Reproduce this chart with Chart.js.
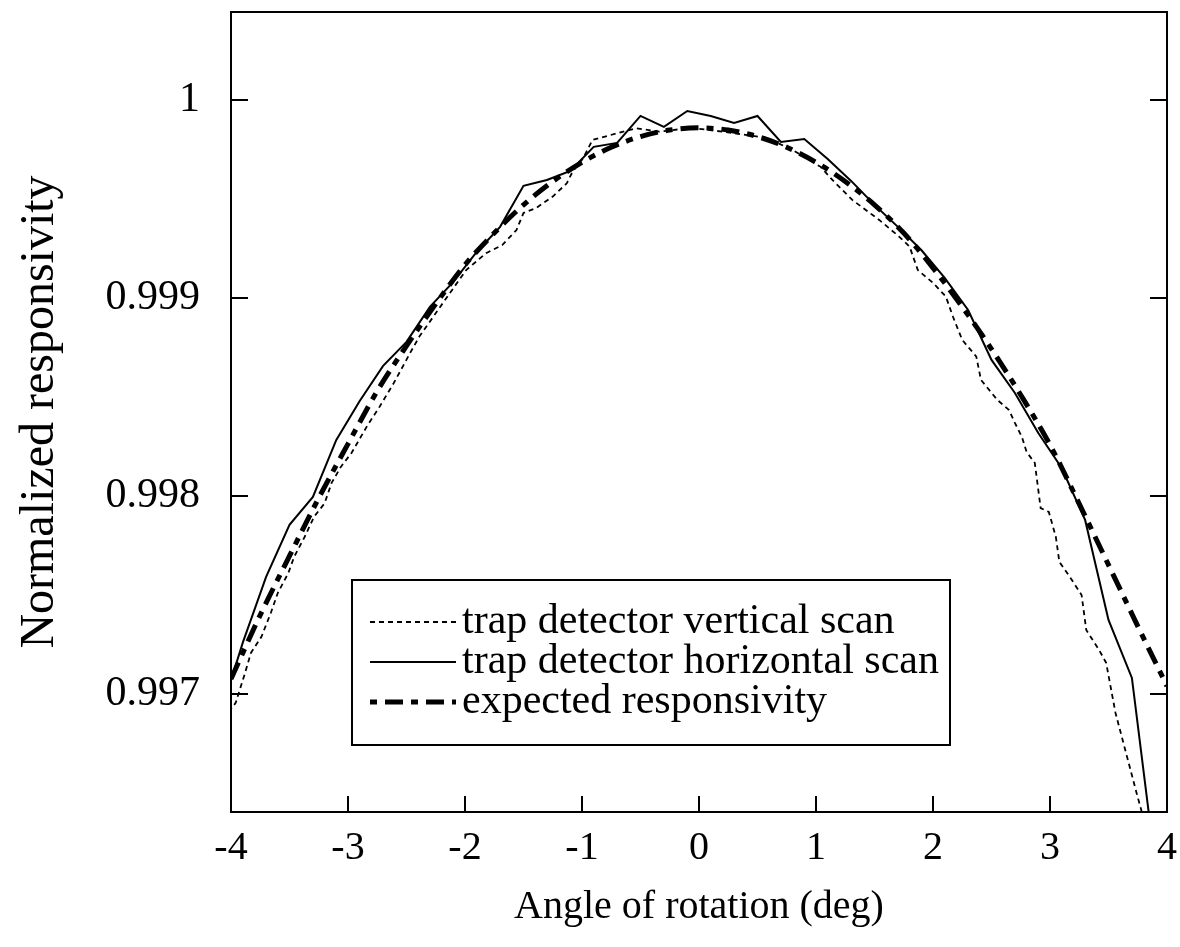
<!DOCTYPE html>
<html>
<head>
<meta charset="utf-8">
<script src="https://cdn.jsdelivr.net/npm/chart.js@4.4.1/dist/chart.umd.min.js"></script>
<style>
  body { margin: 0; background: #fff; }
  #wrap { width: 1180px; height: 947px; }
</style>
</head>
<body>
<div id="wrap"><canvas id="resp-chart" width="1180" height="947"></canvas></div>
<script>
// values
const xTicks = [-4, -3, -2, -1, 0, 1, 2, 3, 4];
const yTicks = [0.997, 0.998, 0.999, 1];

const seriesLabels = [
    'trap detector vertical scan',
    'trap detector horizontal scan',
    'expected responsivity'
];

// vertical scan (thin dashed)
const vertAngle = [-4.02, -3.96, -3.88, -3.83, -3.74, -3.66, -3.6, -3.51, -3.46, -3.37, -3.29, -3.2, -3.14, -3.06,
    -2.97, -2.84, -2.73, -2.61, -2.47, -2.39, -2.27, -2.13, -1.99, -1.82, -1.68, -1.56, -1.5, -1.39, -1.25,
    -1.13, -1.08, -0.99, -0.91, -0.54, -0.34, -0.06, 0.29, 0.58, 0.8, 1.04, 1.14, 1.31, 1.54, 1.71, 1.8,
    1.87, 2.0, 2.11, 2.17, 2.25, 2.37, 2.41, 2.55, 2.65, 2.7, 2.76, 2.8, 2.87, 2.92, 2.99, 3.05, 3.08,
    3.17, 3.27, 3.31, 3.42, 3.48, 3.56, 3.65, 3.74, 3.78, 3.85];
const vertResp = [0.996909, 0.996955, 0.997106, 0.997207, 0.997289, 0.997409, 0.99751, 0.997611, 0.997693,
    0.997794, 0.997895, 0.997963, 0.998066, 0.998148, 0.998217, 0.99835, 0.998451, 0.998569, 0.998721,
    0.998805, 0.998906, 0.999024, 0.999141, 0.999226, 0.999268, 0.999343, 0.999429, 0.999455, 0.999512,
    0.999579, 0.999638, 0.999706, 0.999798, 0.999857, 0.99984, 0.999859, 0.999833, 0.999808, 0.999747,
    0.999662, 0.999596, 0.999495, 0.999394, 0.99931, 0.999259, 0.999141, 0.999076, 0.999007, 0.998906,
    0.998788, 0.998704, 0.998586, 0.998485, 0.998434, 0.998369, 0.998298, 0.998222, 0.998167, 0.997939,
    0.997919, 0.997793, 0.997667, 0.997591, 0.9975, 0.997323, 0.997222, 0.997157, 0.996904, 0.996702,
    0.9965, 0.996414, 0.996212];

// horizontal scan (thin solid)
const horizAngle = [-4.1, -3.9, -3.7, -3.5, -3.3, -3.1, -2.9, -2.7, -2.5, -2.3, -2.1, -1.9, -1.7, -1.5, -1.3,
    -1.1, -0.9, -0.7, -0.5, -0.3, -0.1, 0.1, 0.3, 0.5, 0.7, 0.9, 1.1, 1.3, 1.5, 1.7, 1.9, 2.1, 2.3, 2.5,
    2.7, 2.9, 3.1, 3.3, 3.5, 3.7, 3.9];
const horizResp = [0.996879, 0.997258, 0.997591, 0.997854, 0.997995, 0.998283, 0.99848, 0.998657, 0.998778,
    0.998955, 0.999081, 0.999232, 0.999359, 0.999566, 0.999596, 0.999641, 0.999763, 0.999783, 0.999919,
    0.999864, 0.999944, 0.999919, 0.999884, 0.999919, 0.999788, 0.999803, 0.999702, 0.999591, 0.99947,
    0.999359, 0.999242, 0.999101, 0.998939, 0.998687, 0.99852, 0.998318, 0.998141, 0.997879, 0.997374,
    0.997081, 0.996136];

// expected responsivity (thick dash-dot)
const expAngle = [-4, -3.75, -3.5, -3.25, -3, -2.75, -2.5, -2.25, -2, -1.75, -1.5, -1.25, -1, -0.75, -0.5,
    -0.25, 0, 0.25, 0.5, 0.75, 1, 1.25, 1.5, 1.75, 2, 2.25, 2.5, 2.75, 3, 3.25, 3.5, 3.75, 4];
const expResp = [0.997076, 0.997399, 0.997697, 0.99799, 0.998263, 0.99853, 0.998758, 0.99897, 0.999167,
    0.999328, 0.99947, 0.999588, 0.999685, 0.999761, 0.999815, 0.999848, 0.999859, 0.999848, 0.999815,
    0.999761, 0.999685, 0.999588, 0.99947, 0.999328, 0.999152, 0.998955, 0.998742, 0.99851, 0.998258,
    0.99796, 0.997652, 0.997343, 0.99704];

const serif = "'Liberation Serif', 'Times New Roman', serif";

function toPoints(xs, ys) {
    return xs.map((x, i) => ({ x: x, y: ys[i] }));
}

// drop the label overhang padding so the plot box sits where the original does
function noOverhang(scale) {
    scale.paddingTop = 0;
    scale.paddingBottom = 0;
    scale.paddingLeft = 0;
    scale.paddingRight = 0;
}

// frame, inward ticks and the boxed legend
const framePlugin = {
    id: 'frame',
    afterDatasetsDraw(chart) {
        const { ctx, chartArea: a, scales } = chart;
        ctx.save();
        ctx.strokeStyle = '#000';
        ctx.lineWidth = 2;
        ctx.setLineDash([]);
        ctx.strokeRect(a.left, a.top, a.right - a.left, a.bottom - a.top);

        ctx.beginPath();
        scales.x.ticks.forEach(t => {
            const px = Math.round(scales.x.getPixelForValue(t.value));
            ctx.moveTo(px, a.bottom);
            ctx.lineTo(px, a.bottom - 16);
        });
        scales.y.ticks.forEach(t => {
            const py = Math.round(scales.y.getPixelForValue(t.value));
            ctx.moveTo(a.left, py);
            ctx.lineTo(a.left + 17, py);
            ctx.moveTo(a.right, py);
            ctx.lineTo(a.right - 17, py);
        });
        ctx.stroke();

        // legend box
        const bx = a.left + 121, by = a.top + 568, bw = 598, bh = 165;
        ctx.fillStyle = '#fff';
        ctx.fillRect(bx, by, bw, bh);
        ctx.strokeRect(bx, by, bw, bh);
        ctx.font = '42px ' + serif;
        ctx.textBaseline = 'middle';
        ctx.fillStyle = '#000';
        chart.data.datasets.forEach((ds, i) => {
            const ry = by + 42 + i * 40;
            const dash = ds.borderDash || [];
            ctx.beginPath();
            ctx.lineWidth = ds.borderWidth;
            ctx.setLineDash(dash);
            // start the dash-dot sample on its short dash, as in the original key
            ctx.lineDashOffset = dash.length === 4 ? dash[0] + dash[1] : 0;
            ctx.moveTo(bx + 18, ry);
            ctx.lineTo(bx + 104, ry);
            ctx.stroke();
            ctx.fillText(ds.label, bx + 110, ry);
        });
        ctx.restore();
    }
};

const chart = new Chart(document.getElementById('resp-chart').getContext('2d'), {
    type: 'line',
    data: {
        datasets: [{
            label: seriesLabels[0],
            data: toPoints(vertAngle, vertResp),
            borderColor: '#000',
            borderWidth: 1.8,
            borderDash: [5, 4],
            pointRadius: 0,
            fill: false,
            clip: 0
        }, {
            label: seriesLabels[1],
            data: toPoints(horizAngle, horizResp),
            borderColor: '#000',
            borderWidth: 2,
            pointRadius: 0,
            fill: false,
            clip: 0
        }, {
            label: seriesLabels[2],
            data: toPoints(expAngle, expResp),
            borderColor: '#000',
            borderWidth: 5,
            borderDash: [18, 8, 7, 8],
            cubicInterpolationMode: 'monotone',
            pointRadius: 0,
            fill: false,
            clip: 0
        }]
    },
    options: {
        responsive: false,
        animation: false,
        layout: { padding: { top: 12, right: 13, left: 0, bottom: 0 } },
        plugins: {
            legend: { display: false },
            tooltip: { enabled: false }
        },
        scales: {
            x: {
                type: 'linear',
                min: -4,
                max: 4,
                afterBuildTicks: scale => { scale.ticks = xTicks.map(v => ({ value: v })); },
                afterFit: scale => { scale.height = 135; noOverhang(scale); },
                grid: { display: false, drawTicks: false },
                border: { display: false },
                ticks: {
                    autoSkip: false,
                    maxRotation: 0,
                    padding: 12,
                    color: '#000',
                    font: { family: serif, size: 40 },
                    callback: v => String(v)
                },
                title: {
                    display: true,
                    text: 'Angle of rotation (deg)',
                    color: '#000',
                    font: { family: serif, size: 40 },
                    padding: { top: 0, bottom: 16 }
                }
            },
            y: {
                type: 'linear',
                min: 0.996404,
                max: 1.000444,
                afterBuildTicks: scale => { scale.ticks = yTicks.map(v => ({ value: v })); },
                afterFit: scale => { scale.width = 231; noOverhang(scale); },
                grid: { display: false, drawTicks: false },
                border: { display: false },
                ticks: {
                    autoSkip: false,
                    padding: 31,
                    color: '#000',
                    font: { family: serif, size: 42 },
                    callback: v => String(v)
                },
                title: {
                    display: true,
                    text: 'Normalized responsivity',
                    color: '#000',
                    font: { family: serif, size: 48 },
                    padding: { top: 12, bottom: 0 }
                }
            }
        }
    },
    plugins: [framePlugin]
});
</script>
</body>
</html>
